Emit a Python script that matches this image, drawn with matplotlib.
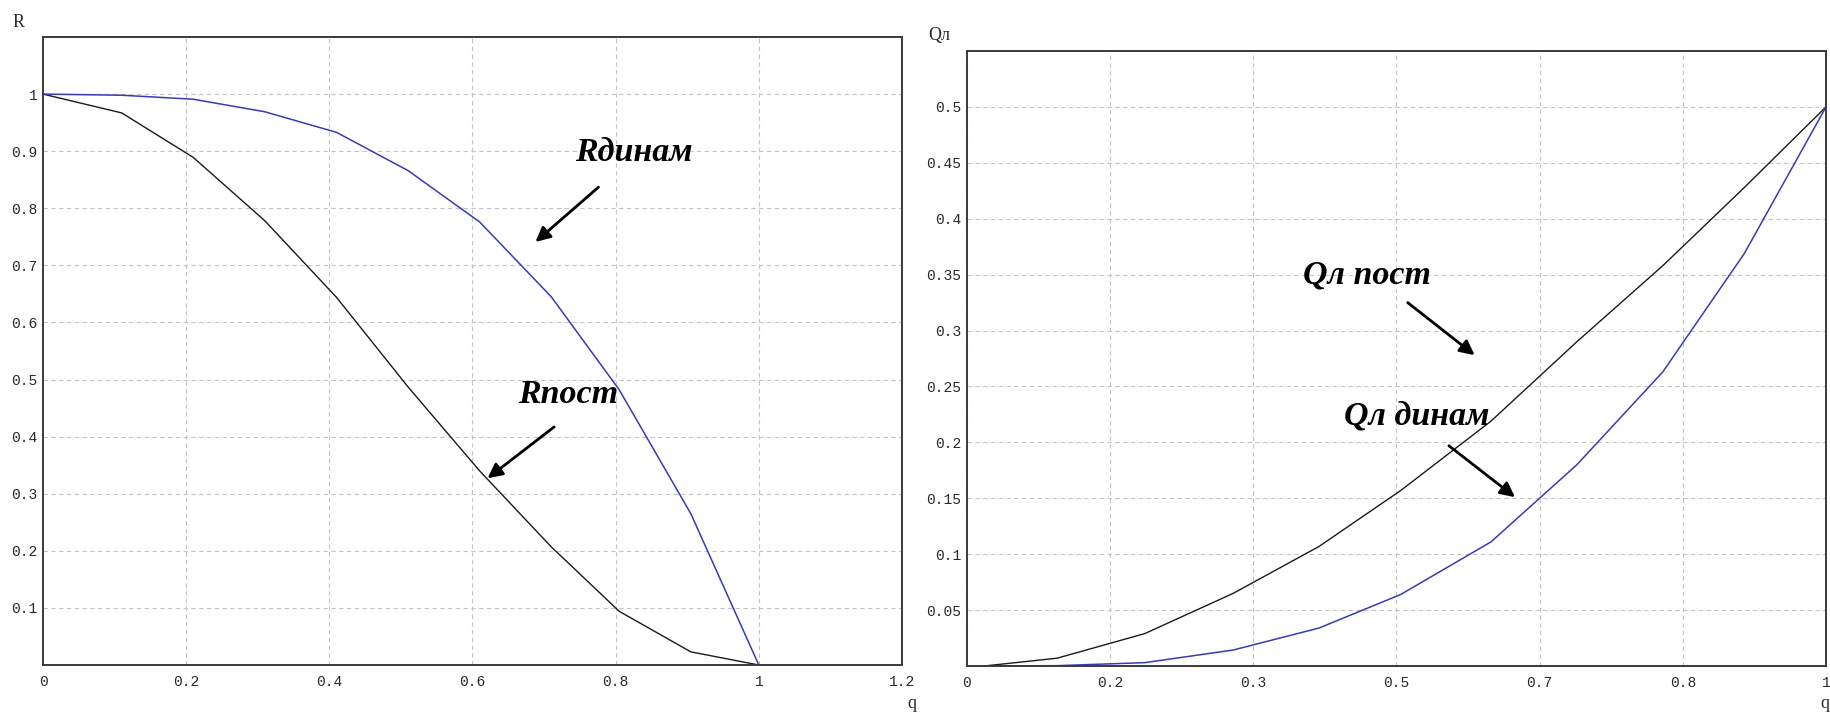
import matplotlib
matplotlib.use("Agg")
import matplotlib.pyplot as plt

# ---- data ----
q_left = [0.0, 0.11, 0.21, 0.31, 0.41, 0.51, 0.61, 0.71, 0.805, 0.905, 1.0]
R_dyn = [1.0, 0.998, 0.991, 0.969, 0.933, 0.866, 0.776, 0.645, 0.482, 0.265, 0.0]
R_const = [1.0, 0.967, 0.889, 0.778, 0.644, 0.487, 0.34, 0.207, 0.094, 0.023, 0.0]

q_right = [0.02, 0.105, 0.207, 0.31, 0.41, 0.505, 0.61, 0.71, 0.81, 0.905, 1.0]
Q_const = [0.0, 0.007, 0.029, 0.065, 0.107, 0.157, 0.219, 0.29, 0.358, 0.428, 0.5]
Q_dyn = [0.0, 0.0003, 0.003, 0.0143, 0.034, 0.064, 0.111, 0.18, 0.263, 0.369, 0.5]

left_xticks = [0, 0.2, 0.4, 0.6, 0.8, 1.0, 1.2]
left_xlabels = ["0", "0.2", "0.4", "0.6", "0.8", "1", "1.2"]
left_yticks = [0.1, 0.2, 0.3, 0.4, 0.5, 0.6, 0.7, 0.8, 0.9, 1.0]
left_ylabels = ["0.1", "0.2", "0.3", "0.4", "0.5", "0.6", "0.7", "0.8", "0.9", "1"]

right_xticks = [0, 1/6, 2/6, 3/6, 4/6, 5/6, 1.0]
right_xlabels = ["0", "0.2", "0.3", "0.5", "0.7", "0.8", "1"]
right_yticks = [0.05, 0.1, 0.15, 0.2, 0.25, 0.3, 0.35, 0.4, 0.45, 0.5]
right_ylabels = ["0.05", "0.1", "0.15", "0.2", "0.25", "0.3", "0.35", "0.4", "0.45", "0.5"]

W, H = 1831, 714
fig = plt.figure(figsize=(W / 100, H / 100), dpi=100)
fig.patch.set_facecolor("white")

def px_axes(x0, y0, x1, y1):
    return fig.add_axes([x0 / W, 1 - y1 / H, (x1 - x0) / W, (y1 - y0) / H])

BLUE = "#3a3ab4"
BLACK = "#1a1a1a"
TICKFONT = dict(family="Liberation Mono", size=10.5, color="#2a2a2a")

def style(ax, xticks, xlabels, yticks, ylabels, xlim, ylim):
    ax.set_xlim(*xlim)
    ax.set_ylim(*ylim)
    ax.set_xticks(xticks)
    ax.set_xticklabels(xlabels, **TICKFONT)
    ax.set_yticks(yticks)
    ax.set_yticklabels(ylabels, **TICKFONT)
    ax.tick_params(length=0, pad=4)
    ax.tick_params(axis="x", pad=7)
    ax.grid(True, color="#c4c4c4", linewidth=0.8, linestyle=(0, (4, 3)))
    ax.set_axisbelow(True)
    for s in ax.spines.values():
        s.set_color("#3a3a3a")
        s.set_linewidth(1.4)

ANN = dict(family="Liberation Serif", weight="bold", style="italic", size=24.5,
           color="black", ha="center", va="center")
ARROW = dict(arrowstyle="-|>", color="black", lw=2.0, mutation_scale=22,
             shrinkA=0, shrinkB=0)

# ---- left chart ----
axL = px_axes(43, 37, 902, 665)
axL.plot(q_left, R_const, color=BLACK, lw=1.0)
axL.plot(q_left, R_dyn, color=BLUE, lw=1.1)
style(axL, left_xticks, left_xlabels, left_yticks, left_ylabels, (0, 1.2), (0, 1.1))
axL.text(0.825, 0.897, "Rдинам", **ANN)
axL.annotate("", xy=(0.688, 0.741), xytext=(0.776, 0.837), arrowprops=ARROW)
axL.text(0.734, 0.473, "Rпост", **ANN)
axL.annotate("", xy=(0.621, 0.327), xytext=(0.714, 0.417), arrowprops=ARROW)

# ---- right chart ----
axR = px_axes(967, 51, 1826, 666)
axR.plot(q_right, Q_const, color=BLACK, lw=1.0)
axR.plot(q_right, Q_dyn, color=BLUE, lw=1.1)
style(axR, right_xticks, right_xlabels, right_yticks, right_ylabels, (0, 1.0), (0, 0.55))
axR.text(0.466, 0.350, "Qл пост", **ANN)
axR.annotate("", xy=(0.591, 0.278), xytext=(0.513, 0.325), arrowprops=ARROW)
axR.text(0.524, 0.224, "Qл динам", **ANN)
axR.annotate("", xy=(0.638, 0.151), xytext=(0.561, 0.197), arrowprops=ARROW)

# ---- axis labels ----
LAB = dict(family="Liberation Serif", size=13, color="#2a2a2a")
fig.text(13 / W, 1 - 27 / H, "R", ha="left", va="baseline", **LAB)
fig.text(928 / W, 1 - 40 / H, "Qл", ha="left", va="baseline", **LAB)
fig.text(912 / W, 1 - 708 / H, "q", ha="center", va="baseline", **LAB)
fig.text(1825 / W, 1 - 708 / H, "q", ha="center", va="baseline", **LAB)

fig.savefig("out.png", dpi=100, facecolor="white")
